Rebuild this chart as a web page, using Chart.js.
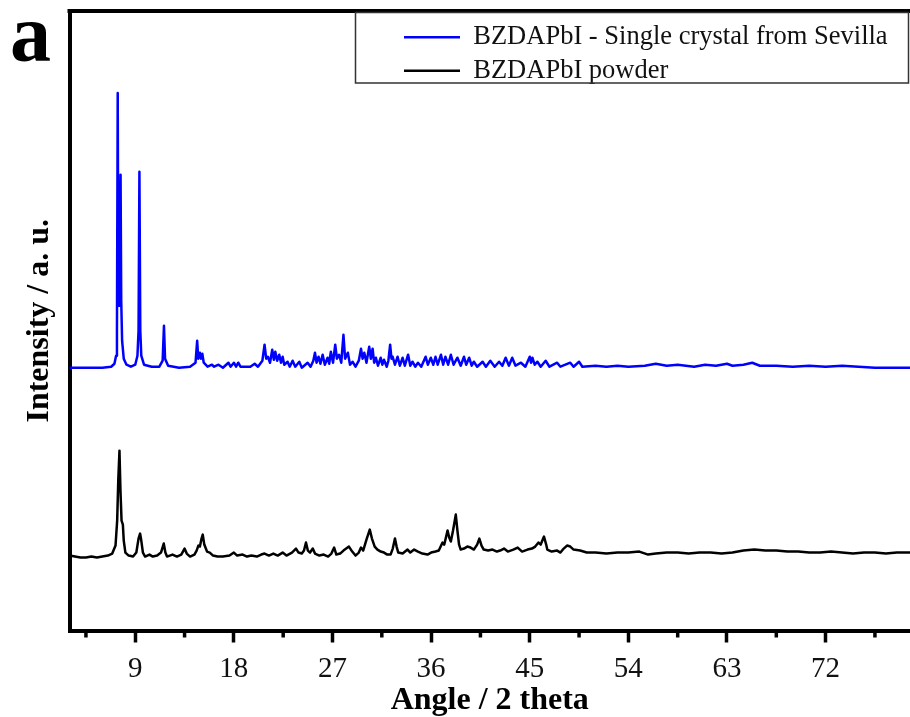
<!DOCTYPE html>
<html>
<head>
<meta charset="utf-8">
<title>BZDAPbI XRD</title>
<script src="https://cdn.jsdelivr.net/npm/chart.js@4.4.1/dist/chart.umd.min.js"></script>
<style>
  html, body { margin: 0; padding: 0; background: #fff; overflow: hidden; }
</style>
</head>
<body>
<canvas id="xrdChart" width="910" height="717"></canvas>
<script>
// Patrones de difraccion (2 theta / intensidad en unidades arbitrarias)
const crystalAngle = [
  3.0, 4.5, 6.0, 6.8, 7.1, 7.25, 7.33, 7.40, 7.46, 7.52, 7.58, 7.66, 7.72, 7.8, 7.95,
  8.2, 8.6, 9.0, 9.2, 9.3, 9.38, 9.46, 9.55, 9.8, 10.5, 11.2, 11.5, 11.62, 11.72, 12.0,
  13.0, 14.0, 14.5, 14.65, 14.75, 14.9, 15.0, 15.12, 15.25, 15.6, 16.0, 16.2, 16.6, 17.0,
  17.5, 17.7, 18.0, 18.2, 18.4, 18.6, 19.5, 19.9, 20.2, 20.6, 20.8, 20.95, 21.1, 21.3,
  21.5, 21.65, 21.78, 21.95, 22.14, 22.3, 22.45, 22.6, 22.9, 23.1, 23.36, 23.6, 23.97,
  24.2, 24.73, 25.0, 25.25, 25.4, 25.55, 25.73, 25.9, 26.1, 26.3, 26.55, 26.7, 26.85,
  27.05, 27.25, 27.4, 27.6, 27.8, 28.0, 28.15, 28.4, 28.6, 28.83, 29.1, 29.4, 29.6,
  29.75, 29.9, 30.1, 30.35, 30.5, 30.66, 30.8, 30.96, 31.15, 31.4, 31.55, 31.7, 31.95,
  32.1, 32.26, 32.38, 32.48, 32.7, 32.94, 33.15, 33.4, 33.6, 33.9, 34.1, 34.3, 34.55,
  34.8, 35.1, 35.5, 35.7, 35.97, 36.2, 36.4, 36.6, 36.9, 37.1, 37.3, 37.55, 37.8, 38.05,
  38.4, 38.7, 39.0, 39.2, 39.47, 39.7, 39.9, 40.2, 40.7, 41.0, 41.4, 41.8, 42.2, 42.5,
  42.8, 43.1, 43.4, 43.7, 44.2, 44.6, 45.0, 45.12, 45.24, 45.45, 45.7, 46.0, 46.45, 46.8,
  47.5, 47.8, 48.7, 49.0, 49.5, 49.8, 51.0, 52.0, 53.0, 54.0, 55.5, 56.5, 57.5, 58.5,
  60.0, 61.0, 62.0, 63.0, 63.5, 64.5, 65.3, 66.0, 67.5, 69.0, 70.5, 72.0, 73.5, 75.0,
  76.5, 78.0, 79.7
];
const crystalIntensity = [
  263, 263, 263, 264, 267, 275, 300, 538, 330, 325, 335, 456, 330, 290, 272,
  266, 264, 266, 275, 300, 459, 300, 275, 266, 264, 264, 270, 305, 272, 265,
  263, 264, 268, 290, 272, 278, 272, 277, 268, 264, 266, 264, 266, 263,
  268, 264, 268, 264, 268, 264, 264, 267, 264, 270, 286, 272, 274, 268,
  281, 271, 279, 270, 276, 268, 274, 266, 269, 264, 270, 264, 269,
  263, 268, 264, 270, 278, 268, 274, 267, 276, 266, 273, 267, 279,
  268, 286, 272, 276, 268, 296, 272, 278, 266, 269, 264, 270, 282,
  272, 278, 268, 284, 272, 282, 268, 273, 265, 273, 266, 271, 264,
  270, 286, 272, 274, 266, 274, 265, 273, 265, 276, 265, 269, 264,
  268, 264, 274, 266, 273, 266, 274, 266, 276, 266, 274, 266, 276, 266,
  273, 265, 274, 266, 273, 265, 269, 264, 269, 264, 270, 264, 269, 265,
  273, 265, 273, 265, 268, 264, 274, 268, 273, 266, 269, 264, 270, 264,
  268, 264, 268, 264, 269, 264, 265, 264, 265, 264, 265, 267, 265, 266,
  264, 266, 265, 267, 265, 266, 268, 265, 265, 264, 265, 264, 265, 264,
  263, 263, 263
];

const powderAngle = [
  3.0, 3.5, 4.0, 4.5, 5.0, 5.5, 6.0, 6.5, 6.9, 7.2, 7.35, 7.45, 7.56, 7.65, 7.75, 7.87,
  7.95, 8.1, 8.4, 8.8, 9.1, 9.3, 9.44, 9.55, 9.7, 9.9, 10.3, 10.6, 11.0, 11.35, 11.6,
  11.75, 11.9, 12.4, 12.8, 13.2, 13.5, 13.7, 14.0, 14.4, 14.6, 14.76, 14.9, 15.05, 15.16,
  15.3, 15.55, 15.8, 16.1, 16.5, 17.0, 17.6, 18.0, 18.3, 18.8, 19.2, 19.6, 20.1, 20.5,
  20.8, 21.2, 21.6, 22.0, 22.45, 22.8, 23.3, 23.67, 23.9, 24.2, 24.4, 24.58, 24.75, 24.95,
  25.2, 25.4, 25.8, 26.2, 26.6, 26.9, 27.15, 27.35, 27.7, 28.0, 28.5, 28.8, 29.1, 29.4,
  29.6, 29.8, 30.1, 30.4, 30.6, 30.85, 31.1, 31.4, 31.7, 32.0, 32.3, 32.5, 32.7, 32.85,
  33.0, 33.4, 33.85, 34.1, 34.45, 34.8, 35.2, 35.67, 36.0, 36.4, 36.7, 37.04, 37.2, 37.5,
  37.65, 37.8, 38.0, 38.25, 38.4, 38.55, 38.7, 39.0, 39.3, 39.6, 39.9, 40.2, 40.4, 40.6,
  40.8, 41.2, 41.6, 42.0, 42.3, 42.65, 43.0, 43.5, 43.9, 44.3, 44.8, 45.2, 45.5, 45.8,
  46.0, 46.3, 46.5, 46.6, 47.0, 47.5, 47.8, 48.1, 48.4, 48.7, 49.0, 49.6, 50.2, 51.0,
  52.0, 53.0, 54.0, 55.0, 55.8, 56.5, 57.5, 58.5, 59.5, 60.5, 61.5, 62.5, 63.5, 64.5,
  65.5, 66.5, 67.5, 68.5, 69.5, 70.5, 71.5, 72.5, 73.5, 74.5, 75.5, 76.5, 77.5, 78.5,
  79.7
];
const powderIntensity = [
  75, 74, 73, 73, 74, 73, 74, 75, 77, 85, 110, 150, 180, 140, 110, 106,
  90, 78, 75, 74, 78, 92, 97, 90, 78, 74, 76, 74, 75, 78, 87,
  78, 74, 76, 74, 76, 82, 77, 74, 76, 80, 85, 84, 92, 96,
  86, 79, 78, 75, 74, 74, 75, 78, 75, 76, 74, 75, 74, 76,
  77, 75, 77, 75, 78, 75, 78, 82, 78, 77, 80, 88, 80, 78,
  82, 77, 75, 76, 74, 77, 83, 76, 77, 80, 84, 79, 75, 78,
  83, 80, 91, 101, 92, 84, 81, 79, 78, 76, 76, 82, 92, 84,
  78, 77, 81, 78, 81, 79, 77, 76, 78, 79, 80, 88, 86, 100,
  93, 89, 100, 116, 100, 86, 81, 82, 84, 83, 81, 86, 92, 85,
  81, 80, 81, 79, 80, 82, 79, 81, 83, 79, 81, 82, 84, 88,
  86, 94, 86, 81, 79, 80, 78, 82, 85, 84, 81, 80, 78, 78,
  77, 78, 78, 79, 76, 77, 78, 78, 77, 78, 78, 77, 78, 80,
  81, 80, 80, 79, 79, 78, 78, 79, 78, 77, 78, 78, 77, 78,
  78
];

const majorTicks = [9, 18, 27, 36, 45, 54, 63, 72];
const minorTicks = [4.5, 13.5, 22.5, 31.5, 40.5, 49.5, 58.5, 67.5, 76.5];

const seriesNames = ['BZDAPbI - Single crystal from Sevilla', 'BZDAPbI powder'];
const seriesColors = ['#0000ff', '#000000'];

const SERIF = "'Liberation Serif', 'Times New Roman', serif";

function toPoints(xs, ys) {
  return xs.map((x, i) => ({ x: x, y: ys[i] }));
}

// marco superior, ticks menores, caja de leyenda y letra del panel
const frameExtras = {
  id: 'frameExtras',
  afterLayout(chart) {
    const lg = chart.legend;
    lg.left = 397;
    lg.top = 17;
    lg.bottom = 200;
    lg.right = 905;
  },
  afterDraw(chart) {
    const { ctx, chartArea, scales } = chart;
    ctx.save();
    ctx.strokeStyle = '#000';
    ctx.lineWidth = 4;
    ctx.beginPath();
    ctx.moveTo(chartArea.left - 2, chartArea.top);
    ctx.lineTo(chartArea.right, chartArea.top);
    ctx.stroke();

    ctx.lineWidth = 3.5;
    minorTicks.forEach(v => {
      const px = scales.x.getPixelForValue(v);
      ctx.beginPath();
      ctx.moveTo(px, chartArea.bottom);
      ctx.lineTo(px, chartArea.bottom + 7);
      ctx.stroke();
    });

    ctx.lineWidth = 1.5;
    ctx.strokeStyle = '#333';
    ctx.strokeRect(355.5, 12.5, 553, 70.5);

    ctx.fillStyle = '#000';
    ctx.font = 'bold 82px ' + SERIF;
    ctx.textBaseline = 'alphabetic';
    ctx.fillText('a', 10, 61);
    ctx.restore();
  }
};

const ctx = document.getElementById('xrdChart').getContext('2d');
const xrdChart = new Chart(ctx, {
  type: 'line',
  data: {
    datasets: [{
      label: seriesNames[0],
      data: toPoints(crystalAngle, crystalIntensity),
      borderColor: seriesColors[0],
      borderWidth: 2.5,
      pointRadius: 0,
      tension: 0,
      borderJoinStyle: 'round'
    }, {
      label: seriesNames[1],
      data: toPoints(powderAngle, powderIntensity),
      borderColor: seriesColors[1],
      borderWidth: 2.5,
      pointRadius: 0,
      tension: 0,
      borderJoinStyle: 'round'
    }]
  },
  options: {
    responsive: false,
    animation: false,
    parsing: false,
    layout: { padding: { top: 11, right: 0, bottom: 0, left: 0 } },
    plugins: {
      tooltip: { enabled: false },
      legend: {
        position: 'chartArea',
        align: 'start',
        labels: {
          usePointStyle: true,
          pointStyle: 'line',
          pointStyleWidth: 56,
          padding: 7,
          color: '#111',
          font: { family: SERIF, size: 26.5 }
        }
      }
    },
    scales: {
      x: {
        type: 'linear',
        min: 3,
        max: 79.7,
        afterBuildTicks: scale => {
          scale.ticks = majorTicks.map(v => ({ value: v }));
        },
        afterFit: scale => { scale.height = 86.5; },
        grid: {
          drawOnChartArea: false,
          drawTicks: true,
          tickLength: 12,
          tickWidth: 3.5,
          tickColor: '#000'
        },
        border: { display: true, color: '#000', width: 4 },
        ticks: {
          autoSkip: false,
          maxRotation: 0,
          padding: 9,
          color: '#111',
          font: { family: SERIF, size: 29 }
        },
        title: {
          display: true,
          text: 'Angle / 2 theta',
          color: '#000',
          padding: { top: 0, bottom: 0 },
          font: { family: SERIF, size: 32, weight: 'bold', lineHeight: 1 }
        }
      },
      y: {
        type: 'linear',
        min: 0,
        max: 620,
        afterFit: scale => { scale.width = 69.5; },
        grid: { display: false, drawTicks: false },
        border: { display: true, color: '#000', width: 4 },
        ticks: { display: false },
        title: {
          display: true,
          text: 'Intensity / a. u.',
          color: '#000',
          padding: { top: 21, bottom: 0 },
          font: { family: SERIF, size: 32, weight: 'bold' }
        }
      }
    }
  },
  plugins: [frameExtras]
});
</script>
</body>
</html>
